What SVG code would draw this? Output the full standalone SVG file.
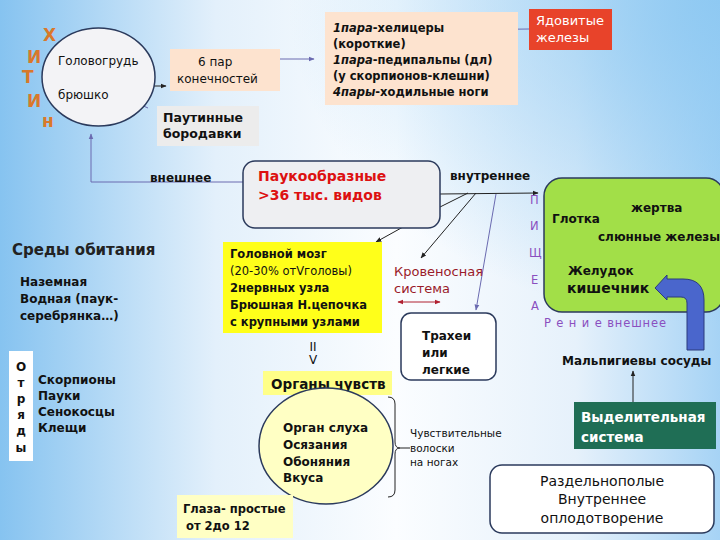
<svg xmlns="http://www.w3.org/2000/svg" width="720" height="540" viewBox="0 0 720 540">
<defs>
<linearGradient id="bg" x1="0" y1="0" x2="1" y2="0">
<stop offset="0" stop-color="#86c3f0"/>
<stop offset="0.3" stop-color="#e3f0fb"/>
<stop offset="0.55" stop-color="#fbfdff"/>
<stop offset="0.8" stop-color="#e6f1fb"/>
<stop offset="1" stop-color="#a6d3f5"/>
</linearGradient>
<radialGradient id="tr" cx="1" cy="0" r="0.6">
<stop offset="0" stop-color="#8cc8f2" stop-opacity="0.9"/>
<stop offset="1" stop-color="#8cc8f2" stop-opacity="0"/>
</radialGradient>
<marker id="ahb" viewBox="0 0 10 10" refX="9" refY="5" markerWidth="6" markerHeight="6" orient="auto-start-reverse"><path d="M0,1 L10,5 L0,9 z" fill="#6a6ab0"/></marker>
<marker id="ahk" viewBox="0 0 10 10" refX="9" refY="5" markerWidth="6" markerHeight="6" orient="auto-start-reverse"><path d="M0,1 L10,5 L0,9 z" fill="#222"/></marker>
<marker id="ahr" viewBox="0 0 10 10" refX="9" refY="5" markerWidth="6" markerHeight="6" orient="auto-start-reverse"><path d="M0,1 L10,5 L0,9 z" fill="#b02030"/></marker>
</defs>
<style>
text{font-family:"DejaVu Sans","Liberation Sans",sans-serif;font-size:12px;fill:#111}
.b{font-weight:bold}
.n{font-weight:normal}
.k{stroke:#222;stroke-width:1;fill:none}
.bl{stroke:#6a6ab0;stroke-width:1;fill:none}
.orange{fill:#d9782a;font-weight:bold;font-size:17px}
.pur{fill:#8a4fbf;font-size:11.5px}
.yt{font-weight:bold;font-size:11.5px}
</style>
<rect width="720" height="540" fill="url(#bg)"/>
<rect width="720" height="540" fill="url(#tr)"/>

<g id="connectors">
<line x1="143" y1="86" x2="166" y2="86" class="k" marker-start="url(#ahk)" marker-end="url(#ahk)"/>
<line x1="276" y1="59" x2="314" y2="59" class="bl" marker-end="url(#ahb)"/>
<line x1="529" y1="29" x2="451" y2="30" class="bl" marker-end="url(#ahb)"/>
<line x1="148" y1="108" x2="114" y2="93" class="bl" marker-end="url(#ahb)"/>
<polyline points="243,182 91,182 91,134" class="bl" marker-end="url(#ahb)"/>
<line x1="440" y1="194" x2="538" y2="193" class="k" marker-end="url(#ahk)"/>
<line x1="422" y1="216" x2="468" y2="193" class="k"/>
<line x1="476" y1="193" x2="421" y2="258" class="k" marker-end="url(#ahk)"/>
<line x1="496" y1="194" x2="476" y2="310" class="bl" marker-end="url(#ahb)"/>
<line x1="403" y1="227" x2="376" y2="242" class="k" marker-end="url(#ahk)"/>
<line x1="398" y1="302" x2="440" y2="302" stroke="#b02030" stroke-width="1" marker-start="url(#ahr)" marker-end="url(#ahr)"/>
<line x1="600" y1="219" x2="623" y2="213" stroke="#5a7a8a" stroke-width="1" marker-end="url(#ahb)"/>
<line x1="622" y1="234" x2="607" y2="226" stroke="#5a7a8a" stroke-width="1" marker-end="url(#ahb)"/>
<line x1="633" y1="402" x2="633" y2="371" class="k" marker-end="url(#ahk)"/>
<path d="M388,397 Q395,397 395,404 L395,442 Q395,448 400,448 Q395,448 395,454 L395,490 Q395,497 388,497" class="k"/>
<line x1="400" y1="448" x2="410" y2="448" class="k"/>
</g>

<g id="body">
<ellipse cx="98.5" cy="77" rx="56.5" ry="49" fill="#f3f3f6" stroke="#2b3a5c" stroke-width="1.5"/>
<text x="58" y="65">Головогрудь</text>
<text x="58" y="99">брюшко</text>
</g>

<g id="chitin">
<text x="43" y="41" class="orange">Х</text>
<text x="27" y="63" class="orange">И</text>
<text x="22" y="83" class="orange">Т</text>
<text x="27" y="107" class="orange">И</text>
<text x="42" y="127" class="orange">н</text>
</g>

<g id="limbs">
<rect x="170" y="49" width="110" height="42" fill="#fde3cf"/>
<text x="198" y="66">6 пар</text>
<text x="177" y="83">конечностей</text>
</g>

<g id="appendages">
<rect x="325" y="12" width="193" height="93" fill="#fde3cf"/>
<text x="333" y="32" class="yt"><tspan font-style="italic">1пара</tspan>-хелицеры</text>
<text x="333" y="48" class="yt">(короткие)</text>
<text x="333" y="64" class="yt"><tspan font-style="italic">1пара</tspan>-педипальпы (дл)</text>
<text x="333" y="80" class="yt">(у скорпионов-клешни)</text>
<text x="333" y="96" class="yt"><tspan font-style="italic">4пары</tspan>-ходильные ноги</text>
</g>

<g id="venom">
<rect x="529" y="9" width="83" height="41" fill="#e8432a"/>
<text x="536" y="25" style="fill:#fff;font-size:13px">Ядовитые</text>
<text x="536" y="42" style="fill:#fff;font-size:13px">железы</text>
</g>

<g id="spinnerets">
<rect x="157" y="106" width="102" height="40" fill="#ececec"/>
<text x="163" y="122" class="b" style="font-size:12.5px">Паутинные</text>
<text x="163" y="138" class="b" style="font-size:12.5px">бородавки</text>
</g>

<text x="150" y="182" class="b">внешнее</text>
<text x="450" y="180" class="b">внутреннее</text>

<g id="arachnida">
<rect x="243" y="161" width="197" height="67" rx="12" fill="#eeeff2" stroke="#2b3a5c" stroke-width="1.5"/>
<text x="258" y="181" class="b" style="fill:#dd1111;font-size:14px">Паукообразные</text>
<text x="258" y="200" class="b" style="fill:#dd1111;font-size:14px">&gt;36 тыс. видов</text>
</g>

<g id="habitats">
<text x="12" y="255" style="font-size:15px;fill:#222" class="b">Среды обитания</text>
<text x="20" y="286" class="b">Наземная</text>
<text x="20" y="303" class="b">Водная (паук-</text>
<text x="20" y="320" class="b">серебрянка…)</text>
</g>

<g id="orders">
<rect x="9" y="351" width="24" height="110" fill="#fff"/>
<text x="21" y="371" class="b" text-anchor="middle">О</text>
<text x="21" y="387" class="b" text-anchor="middle">т</text>
<text x="21" y="403" class="b" text-anchor="middle">р</text>
<text x="21" y="419" class="b" text-anchor="middle">я</text>
<text x="21" y="435" class="b" text-anchor="middle">д</text>
<text x="21" y="452" class="b" text-anchor="middle">ы</text>
<text x="38" y="384" class="b">Скорпионы</text>
<text x="38" y="400" class="b">Пауки</text>
<text x="38" y="416" class="b">Сенокосцы</text>
<text x="38" y="432" class="b">Клещи</text>
</g>

<g id="nervous">
<rect x="223" y="242" width="159" height="91" fill="#ffff1a"/>
<text x="230" y="258" class="yt">Головной мозг</text>
<text x="230" y="275" style="font-size:11.5px">(20-30% отVголовы)</text>
<text x="230" y="292" class="yt">2нервных узла</text>
<text x="230" y="309" class="yt">Брюшная Н.цепочка</text>
<text x="230" y="326" class="yt">с крупными узлами</text>
</g>

<g id="blood">
<text x="394" y="276" style="fill:#9a1b2a;font-size:13px">Кровеносная</text>
<text x="394" y="293" style="fill:#9a1b2a;font-size:13px">система</text>
</g>

<g id="tracheae">
<rect x="401" y="313" width="95" height="67" rx="10" fill="#fff" stroke="#2b3a5c" stroke-width="1.5"/>
<text x="422" y="340" class="b">Трахеи</text>
<text x="422" y="357" class="b">или</text>
<text x="422" y="374" class="b">легкие</text>
</g>

<g id="implies">
<text x="313" y="351" text-anchor="middle">II</text>
<text x="313" y="364" text-anchor="middle">V</text>
</g>

<g id="senses">
<rect x="263" y="371" width="129" height="24" fill="#ffff88"/>
<text x="271" y="389" class="b" style="font-size:13.5px">Органы чувств</text>
<ellipse cx="326" cy="446" rx="67" ry="58" fill="#ffffc4" stroke="#2b3a5c" stroke-width="1.5"/>
<text x="283" y="432" class="b">Орган слуха</text>
<text x="283" y="449" class="b">Осязания</text>
<text x="283" y="466" class="b">Обоняния</text>
<text x="283" y="482" class="b">Вкуса</text>
<text x="410" y="437" style="font-size:10.5px">Чувствительные</text>
<text x="410" y="452" style="font-size:10.5px">волоски</text>
<text x="410" y="466" style="font-size:10.5px">на ногах</text>
</g>

<g id="eyes">
<rect x="177" y="495" width="116" height="43" fill="#ffffc4"/>
<text x="183" y="513" class="yt">Глаза- простые</text>
<text x="186" y="530" class="yt">от 2до 12</text>
</g>

<g id="digestion">
<rect x="544" y="178" width="180" height="134" rx="18" fill="#a2df48" stroke="#2b3a5c" stroke-width="1.5"/>
<text x="552" y="223" class="b">Глотка</text>
<text x="631" y="212" class="b">жертва</text>
<text x="598" y="241" class="b">слюнные железы</text>
<text x="568" y="275" class="b">Желудок</text>
<text x="567" y="293" class="b" style="font-size:14px">кишечник</text>
<text x="530" y="204" class="pur">П</text>
<text x="530" y="230" class="pur">И</text>
<text x="529" y="257" class="pur">Щ</text>
<text x="531" y="284" class="pur">Е</text>
<text x="531" y="310" class="pur">А</text>
<text x="544" y="327" class="pur" textLength="122" lengthAdjust="spacing">Р е н и е  внешнее</text>
</g>

<g id="malpighian">
<path d="M687,350 L687,303 Q687,297 681,297 L667,297 L667,300 L655,288 L667,275 L667,279 L683,279 Q704,279 704,300 L704,350 Z" fill="#4a66cc" stroke="#2b3a7c" stroke-width="1"/>
<text x="562" y="365" class="b">Мальпигиевы сосуды</text>
</g>

<g id="excretory">
<rect x="574" y="402" width="142" height="47" fill="#1f6e55"/>
<text x="581" y="422" class="b" style="fill:#fff;font-size:13.5px">Выделительная</text>
<text x="581" y="442" class="b" style="fill:#fff;font-size:13.5px">система</text>
</g>

<g id="reproduction">
<rect x="490" y="465" width="224" height="68" rx="12" fill="#fff" stroke="#2b3a5c" stroke-width="1.5"/>
<text x="602" y="486" text-anchor="middle" style="font-size:14px">Раздельнополые</text>
<text x="602" y="504" text-anchor="middle" style="font-size:14px">Внутреннее</text>
<text x="602" y="523" text-anchor="middle" style="font-size:14px">оплодотворение</text>
</g>
</svg>
